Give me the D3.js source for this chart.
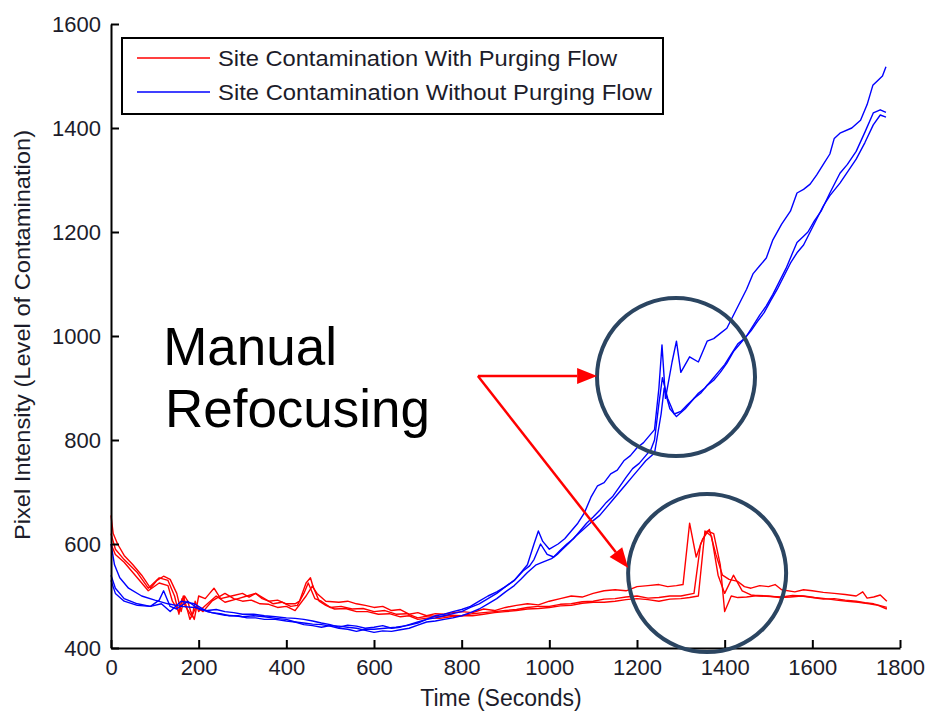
<!DOCTYPE html>
<html lang="en">
<head>
  <meta charset="UTF-8">
  <title>Site Contamination vs Time</title>
  <style>
    body { margin: 0; background: #fff; }
    svg text { font-family: "Liberation Sans", Arial, sans-serif; fill: #1c1c2a; }
    .axis path, .axis line { stroke: #000; stroke-width: 2px; }
    .series { fill: none; stroke-width: 1.4px; stroke-linejoin: round; }
  </style>
  <script src="https://d3js.org/d3.v7.min.js"></script>
</head>
<body>
<div id="chart"></div>
<script>
  // tick values
  var xTicks = [0, 200, 400, 600, 800, 1000, 1200, 1400, 1600, 1800];
  var yTicks = [400, 600, 800, 1000, 1200, 1400, 1600];

  var legendLabels = ["Site Contamination With Purging Flow", "Site Contamination Without Purging Flow"];

  // red runs: [seconds, pixel intensity]
  var red1 = [[0,655],[5,620],[15,600],[30,578],[50,560],[70,540],[90,515],[105,530],[120,538],[135,532],[150,505],[160,470],[168,500],[175,490],[182,470],[190,455],[200,500],[215,495],[225,505],[235,515],[250,495],[275,500],[300,505],[315,498],[330,505],[345,495],[360,490],[380,492],[400,485],[420,485],[430,490],[445,525],[455,535],[462,515],[470,505],[490,490],[520,488],[540,490],[560,485],[580,482],[600,478],[620,480],[640,472],[660,474],[680,465],[700,468],[720,462],[740,466],[760,465],[780,468],[800,470],[825,468],[850,475],[875,472],[900,478],[925,482],[950,485],[975,483],[1000,490],[1025,495],[1050,500],[1075,498],[1100,505],[1125,510],[1150,512],[1175,510],[1200,518],[1225,520],[1250,522],[1270,518],[1290,520],[1305,522],[1320,640],[1335,575],[1350,610],[1365,628],[1380,580],[1395,540],[1410,532],[1430,528],[1445,518],[1460,515],[1480,520],[1500,518],[1515,522],[1530,512],[1560,508],[1580,512],[1600,510],[1625,507],[1650,505],[1675,503],[1700,500],[1715,508],[1725,496],[1740,498],[1755,502],[1770,490]];
  var red2 = [[0,620],[10,590],[30,570],[60,545],[85,515],[110,535],[130,530],[145,500],[155,465],[162,495],[170,480],[185,460],[192,490],[200,470],[220,485],[240,500],[260,488],[290,495],[310,500],[330,505],[350,495],[370,485],[390,488],[410,480],[425,482],[440,505],[450,525],[465,495],[480,490],[500,478],[525,480],[550,475],[575,476],[600,470],[625,472],[650,465],[675,466],[700,458],[725,462],[750,460],[775,463],[800,462],[825,466],[850,468],[875,470],[900,472],[925,474],[950,478],[975,480],[1000,480],[1025,484],[1050,485],[1075,489],[1100,490],[1125,494],[1150,495],[1175,498],[1200,500],[1225,496],[1250,497],[1275,500],[1300,500],[1330,505],[1345,600],[1360,625],[1375,620],[1390,560],[1400,470],[1415,500],[1430,497],[1450,498],[1475,501],[1500,500],[1525,497],[1550,498],[1575,500],[1600,497],[1625,494],[1650,495],[1675,492],[1700,490],[1720,487],[1740,485],[1770,478]];
  var red3 = [[0,600],[10,580],[30,565],[60,535],[85,510],[110,525],[130,520],[140,490],[155,470],[165,500],[172,480],[180,455],[195,480],[210,470],[230,490],[245,498],[260,505],[280,495],[300,490],[320,492],[340,485],[360,484],[380,478],[400,480],[420,472],[445,500],[460,520],[475,490],[490,482],[510,475],[535,476],[560,470],[585,470],[610,465],[635,466],[660,460],[680,462],[700,455],[725,458],[750,457],[775,460],[800,462],[825,462],[850,465],[875,468],[900,470],[925,472],[950,475],[975,476],[1000,478],[1025,481],[1050,482],[1075,486],[1100,488],[1125,488],[1150,490],[1175,493],[1200,495],[1225,493],[1250,490],[1275,494],[1300,495],[1320,497],[1340,500],[1355,625],[1370,615],[1385,540],[1400,505],[1420,540],[1440,510],[1460,502],[1480,500],[1505,499],[1530,498],[1555,501],[1580,500],[1605,497],[1630,495],[1655,492],[1680,490],[1705,488],[1730,485],[1750,482],[1770,475]];

  // blue runs
  var blue1 = [[0,600],[8,560],[20,535],[40,515],[70,500],[100,492],[130,485],[160,480],[190,478],[220,472],[240,474],[260,470],[280,468],[300,465],[325,465],[350,462],[375,460],[400,458],[420,457],[440,455],[460,452],[480,448],[500,445],[520,440],[540,444],[560,442],[580,438],[600,440],[620,443],[640,438],[660,440],[680,445],[700,450],[720,455],[740,458],[760,462],[780,466],[800,470],[820,478],[840,485],[860,495],[880,505],[900,518],[920,530],[935,545],[950,560],[965,600],[975,625],[985,605],[1000,590],[1020,600],[1035,610],[1050,625],[1065,640],[1080,660],[1095,690],[1110,712],[1125,718],[1140,735],[1155,742],[1170,760],[1185,770],[1200,785],[1215,795],[1225,805],[1240,820],[1250,900],[1257,983],[1265,880],[1280,950],[1290,990],[1300,930],[1320,960],[1340,950],[1360,990],[1375,995],[1390,1005],[1405,1015],[1420,1040],[1435,1065],[1450,1090],[1465,1120],[1480,1135],[1495,1150],[1510,1185],[1530,1215],[1550,1240],[1565,1275],[1580,1282],[1595,1292],[1610,1310],[1625,1330],[1640,1350],[1650,1380],[1663,1390],[1690,1400],[1710,1415],[1725,1445],[1738,1482],[1750,1492],[1760,1500],[1768,1518]];
  var blue2 = [[0,540],[10,515],[30,495],[60,485],[90,480],[110,492],[120,510],[135,480],[150,475],[175,490],[200,475],[230,468],[250,466],[270,462],[290,462],[310,458],[330,458],[350,455],[375,455],[400,452],[420,450],[440,448],[460,446],[480,445],[500,442],[520,438],[540,436],[560,432],[580,436],[600,436],[625,438],[650,440],[675,443],[700,448],[720,455],[740,462],[760,465],[780,470],[800,474],[820,480],[840,490],[860,500],[880,508],[900,518],[920,530],[940,548],[955,558],[965,570],[980,600],[995,580],[1010,575],[1025,588],[1040,600],[1055,610],[1070,625],[1085,640],[1100,652],[1115,665],[1130,680],[1145,692],[1160,710],[1175,728],[1190,745],[1205,755],[1220,770],[1232,782],[1240,800],[1250,870],[1258,920],[1270,880],[1285,850],[1300,855],[1315,868],[1330,880],[1345,890],[1360,905],[1375,915],[1390,930],[1405,948],[1420,970],[1435,985],[1450,1000],[1465,1020],[1480,1040],[1495,1058],[1510,1080],[1525,1105],[1540,1130],[1555,1160],[1565,1180],[1580,1192],[1590,1200],[1605,1222],[1620,1240],[1640,1275],[1663,1313],[1680,1330],[1700,1355],[1720,1392],[1739,1429],[1755,1435],[1768,1430]];
  var blue3 = [[0,530],[10,505],[30,490],[60,482],[90,480],[115,485],[135,470],[160,490],[190,485],[220,470],[240,466],[260,463],[280,462],[300,460],[325,462],[350,460],[375,457],[400,455],[420,450],[440,445],[460,443],[480,440],[500,443],[520,442],[540,440],[560,438],[580,434],[600,430],[620,433],[640,432],[660,435],[680,438],[700,444],[720,450],[740,452],[760,455],[780,458],[800,462],[820,468],[840,475],[860,485],[880,495],[900,508],[920,520],[935,532],[950,545],[970,560],[985,565],[1005,572],[1018,580],[1030,590],[1045,602],[1060,615],[1080,630],[1100,645],[1115,655],[1130,670],[1145,685],[1160,700],[1175,715],[1190,730],[1205,745],[1220,760],[1240,775],[1255,850],[1262,900],[1275,860],[1290,845],[1310,860],[1325,875],[1340,890],[1355,900],[1370,915],[1385,930],[1400,945],[1415,965],[1430,985],[1445,995],[1460,1010],[1475,1028],[1490,1045],[1505,1068],[1520,1090],[1535,1115],[1550,1140],[1565,1160],[1580,1175],[1595,1200],[1610,1225],[1625,1250],[1640,1270],[1663,1294],[1680,1315],[1700,1340],[1720,1372],[1739,1406],[1755,1425],[1768,1421]];

  var width = 927;
  var height = 712;

  var svg = d3.select("#chart").append("svg")
    .attr("width", width)
    .attr("height", height);

  var x = d3.scaleLinear().domain([0, 1800]).range([111, 900]);
  var y = d3.scaleLinear().domain([400, 1600]).range([648, 24]);

  var line = d3.line()
    .x(d => x(d[0]))
    .y(d => y(d[1]));

  // data lines
  var series = [
    { data: red1, color: "#ff0000" },
    { data: red2, color: "#ff0000" },
    { data: red3, color: "#ff0000" },
    { data: blue1, color: "#0000ff" },
    { data: blue2, color: "#0000ff" },
    { data: blue3, color: "#0000ff" }
  ];

  svg.append("g")
    .selectAll("path")
    .data(series)
    .enter().append("path")
    .attr("class", "series")
    .attr("stroke", d => d.color)
    .attr("d", d => line(d.data));

  // axes (ticks point inward, no box)
  svg.append("g")
    .attr("class", "axis")
    .attr("transform", "translate(0," + y(400) + ")")
    .call(d3.axisBottom(x).tickValues(xTicks).tickFormat(d3.format("d"))
      .tickSize(-8).tickSizeOuter(0).tickPadding(11));

  svg.append("g")
    .attr("class", "axis")
    .attr("transform", "translate(" + x(0) + ",0)")
    .call(d3.axisLeft(y).tickValues(yTicks).tickFormat(d3.format("d"))
      .tickSize(-8).tickSizeOuter(0).tickPadding(10));

  svg.selectAll(".axis text")
    .style("font-size", "22px")
    .style("fill", "#1c1c2a");

  // axis titles
  svg.append("text")
    .attr("x", 501)
    .attr("y", 706)
    .attr("text-anchor", "middle")
    .style("font-size", "23px")
    .text("Time (Seconds)");

  svg.append("text")
    .attr("transform", "translate(30,335) rotate(-90)")
    .attr("text-anchor", "middle")
    .style("font-size", "22px")
    .attr("textLength", 410)
    .attr("lengthAdjust", "spacingAndGlyphs")
    .text("Pixel Intensity (Level of Contamination)");

  // legend
  var legend = svg.append("g").attr("transform", "translate(122,38)");
  legend.append("rect")
    .attr("width", 541)
    .attr("height", 76)
    .attr("fill", "#fff")
    .attr("stroke", "#000")
    .attr("stroke-width", 2);

  var legendColors = ["#ff0000", "#0000ff"];
  var rows = legend.selectAll(".row")
    .data(legendLabels)
    .enter().append("g")
    .attr("transform", (d, i) => "translate(0," + (20 + i * 34) + ")");

  rows.append("line")
    .attr("x1", 15).attr("x2", 88)
    .attr("stroke", (d, i) => legendColors[i])
    .attr("stroke-width", 1.6);

  rows.append("text")
    .attr("x", 96)
    .attr("y", 8)
    .style("font-size", "22px")
    .attr("textLength", (d, i) => i === 0 ? 399 : 434)
    .attr("lengthAdjust", "spacingAndGlyphs")
    .text(d => d);

  // annotation: manual refocusing
  svg.append("text")
    .attr("x", x(119))
    .attr("y", y(944))
    .style("font-size", "53px")
    .style("fill", "#000")
    .text("Manual");

  svg.append("text")
    .attr("x", x(123))
    .attr("y", y(825))
    .style("font-size", "53px")
    .style("fill", "#000")
    .text("Refocusing");

  var circles = [[1289, 921], [1360, 544]];
  svg.append("g")
    .selectAll("circle")
    .data(circles)
    .enter().append("circle")
    .attr("cx", d => x(d[0]))
    .attr("cy", d => y(d[1]))
    .attr("r", 79)
    .attr("fill", "none")
    .attr("stroke", "#2b4561")
    .attr("stroke-width", 4);

  var arrowFrom = [837, 923];
  var arrowTips = [[1109, 923], [1180, 554]];
  var arrows = svg.append("g");
  arrowTips.forEach(function(t) {
    var x0 = x(arrowFrom[0]), y0 = y(arrowFrom[1]);
    var x1 = x(t[0]), y1 = y(t[1]);
    var ang = Math.atan2(y1 - y0, x1 - x0);
    var len = 20, half = 8;
    var bx = x1 - len * Math.cos(ang), by = y1 - len * Math.sin(ang);
    arrows.append("line")
      .attr("x1", x0).attr("y1", y0)
      .attr("x2", bx).attr("y2", by)
      .attr("stroke", "#ff0000")
      .attr("stroke-width", 2.5);
    var px = -Math.sin(ang) * half, py = Math.cos(ang) * half;
    arrows.append("polygon")
      .attr("points", [[x1, y1], [bx + px, by + py], [bx - px, by - py]].map(p => p.join(",")).join(" "))
      .attr("fill", "#ff0000");
  });
</script>
</body>
</html>
